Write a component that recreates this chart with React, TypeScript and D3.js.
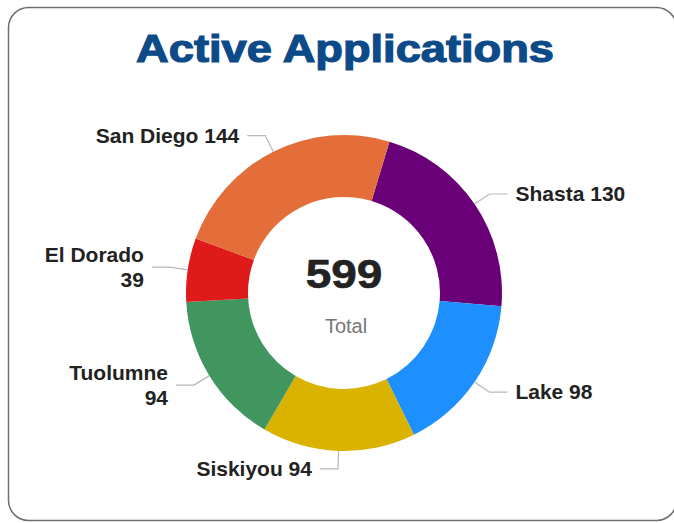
import React, { useEffect, useRef } from 'react';
import * as d3 from 'd3';

const counties = ['Shasta', 'Lake', 'Siskiyou', 'Tuolumne', 'El Dorado', 'San Diego'];
const applications = [130, 98, 94, 94, 39, 144];
const sliceColors = ['#6a0077', '#1e8fff', '#dab300', '#41955f', '#de1a1a', '#e46e39'];
const chartTitle = 'Active Applications';
const totalLabel = 'Total';

function App() {
  const svgRef = useRef<SVGSVGElement>(null);

  useEffect(() => {
    if (!svgRef.current) return;
    const svg = d3.select(svgRef.current);
    svg.selectAll('*').remove();

    // card
    svg.append('rect')
      .attr('x', 8.5).attr('y', 7.5)
      .attr('width', 668).attr('height', 513)
      .attr('rx', 20)
      .attr('fill', '#fff')
      .attr('stroke', '#6e6e6e')
      .attr('stroke-width', 1.5);

    svg.append('text')
      .attr('transform', 'translate(345,62) scale(1.19,1)')
      .attr('text-anchor', 'middle')
      .style('font', 'bold 38px "Liberation Sans", Arial, sans-serif')
      .attr('fill', '#0d4a88')
      .attr('stroke', '#0d4a88')
      .attr('stroke-width', 1.2)
      .text(chartTitle);

    const cx = 344, cy = 293, outerR = 158, innerR = 96;
    const start = 16.7 * Math.PI / 180;
    const data = counties.map((name, i) => ({ name, value: applications[i], color: sliceColors[i] }));

    const pie = d3.pie<any>()
      .value(d => d.value)
      .sort(null)
      .startAngle(start)
      .endAngle(start + 2 * Math.PI);
    const arc = d3.arc<any>().innerRadius(innerR).outerRadius(outerR);
    const arcs = pie(data);

    const g = svg.append('g').attr('transform', `translate(${cx},${cy})`);
    g.selectAll('path.slice')
      .data(arcs)
      .join('path')
      .attr('class', 'slice')
      .attr('d', arc)
      .attr('fill', d => d.data.color);

    // leader lines and labels
    arcs.forEach(a => {
      const mid = (a.startAngle + a.endAngle) / 2;
      const sx = Math.sin(mid), sy = -Math.cos(mid);
      const p0 = [outerR * sx, outerR * sy];
      const p1 = [(outerR + 18) * sx, (outerR + 18) * sy];
      const side = sx >= 0 ? 1 : -1;
      const p2 = [p1[0] + side * 18, p1[1]];

      g.append('polyline')
        .attr('points', [p0, p1, p2].map(p => p.join(',')).join(' '))
        .attr('fill', 'none')
        .attr('stroke', '#b8b8b8')
        .attr('stroke-width', 1.2);

      const tx = p2[0] + side * 8;
      const label = g.append('text')
        .attr('text-anchor', side > 0 ? 'start' : 'end')
        .style('font', 'bold 21px "Liberation Sans", Arial, sans-serif')
        .attr('fill', '#222');
      const line = label.append('tspan')
        .attr('x', tx).attr('y', p2[1] + 7)
        .text(`${a.data.name} ${a.data.value}`);
      const w = (label.node() as SVGTextElement).getComputedTextLength();
      const left = cx + (side > 0 ? tx : tx - w);
      const right = cx + (side > 0 ? tx + w : tx);
      if (left < 60 || right > 660) {
        line.attr('y', p2[1] + 7 - 12.5).text(a.data.name);
        label.append('tspan')
          .attr('x', tx).attr('y', p2[1] + 7 + 12.5)
          .text(a.data.value);
      }
    });

    // center total
    const total = d3.sum(applications);
    g.append('text')
      .attr('transform', 'translate(0,-5) scale(1.15,1)')
      .attr('text-anchor', 'middle')
      .style('font', 'bold 40px "Liberation Sans", Arial, sans-serif')
      .attr('fill', '#222')
      .attr('stroke', '#222')
      .attr('stroke-width', 0.6)
      .text(total);
    g.append('text')
      .attr('x', 2).attr('y', 40)
      .attr('text-anchor', 'middle')
      .style('font', '20px "Liberation Sans", Arial, sans-serif')
      .attr('fill', '#777')
      .text(totalLabel);
  }, []);

  return (
    <svg
      ref={svgRef}
      width={674}
      height={523}
      style={{ position: 'absolute', left: 0, top: 0, background: '#fff' }}
    />
  );
}

export default App;
